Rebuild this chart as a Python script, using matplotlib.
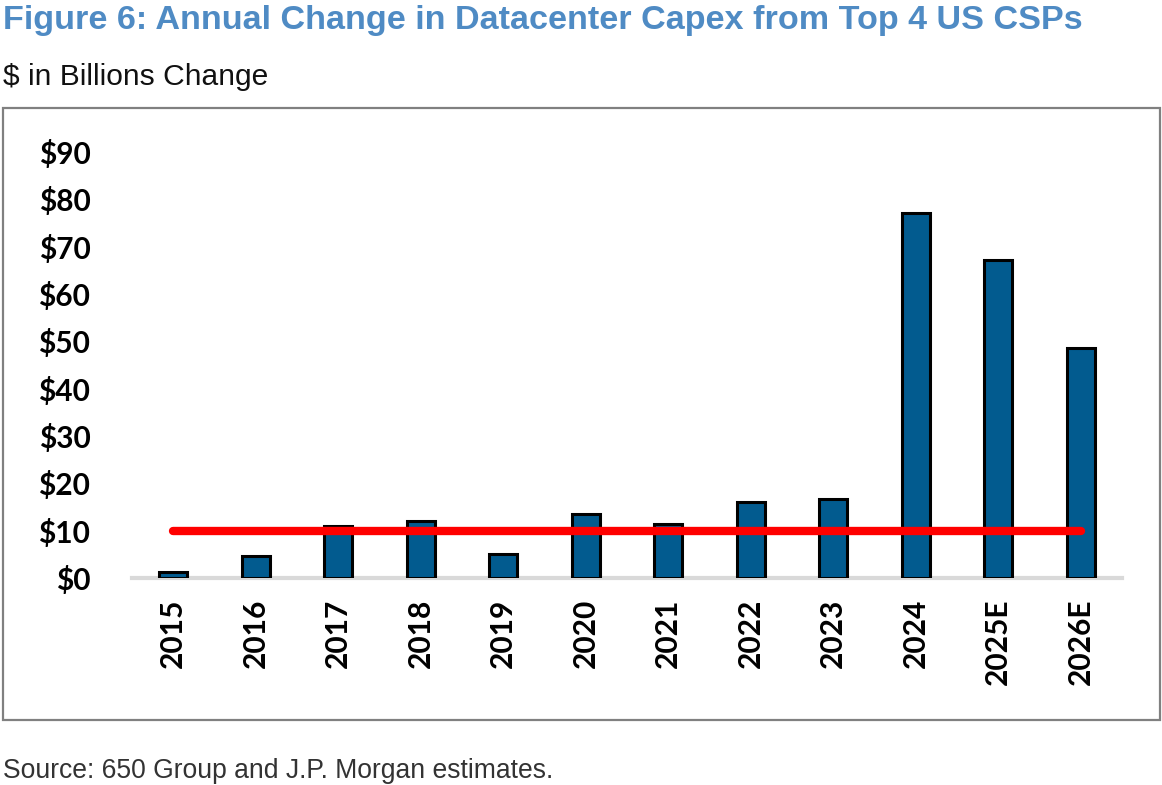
import matplotlib.pyplot as plt
from matplotlib.patches import Rectangle

# data
years = ["2015", "2016", "2017", "2018", "2019", "2020",
         "2021", "2022", "2023", "2024", "2025E", "2026E"]
capex_change = [1.2, 4.6, 11.0, 12.0, 5.1, 13.5, 11.4, 16.1, 16.7, 77.2, 67.2, 48.6]
reference_line = [10] * len(years)
y_ticks = [0, 10, 20, 30, 40, 50, 60, 70, 80, 90]

fig = plt.figure(figsize=(11.62, 7.85), dpi=100)


def fit_width(txt, width_px):
    # shrink/grow a text so it spans about the same width as in the reference
    r = fig.canvas.get_renderer()
    w = txt.get_window_extent(renderer=r).width
    txt.set_fontsize(txt.get_fontsize() * width_px / w)


# title block
title = fig.text(0.003, 0.993, "Figure 6: Annual Change in Datacenter Capex from Top 4 US CSPs",
                 family="Liberation Sans", weight="bold", size=24,
                 color="#4F8BC4", va="top", ha="left")
sub = fig.text(0.003, 0.902, "$ in Billions Change", family="Liberation Sans",
               size=19, color="#111111", va="center", ha="left")
src = fig.text(0.003, 0.018, "Source: 650 Group and J.P. Morgan estimates.",
               family="Liberation Sans", size=16, color="#333333",
               va="center", ha="left")
fit_width(title, 1080)
fit_width(sub, 266)
fit_width(src, 552)

# grey frame around the chart
fig.patches.append(Rectangle((3 / 1162, 1 - 720 / 785), 1157 / 1162, 612 / 785,
                             transform=fig.transFigure, fill=False,
                             edgecolor="#808080", linewidth=1.6))

ax = fig.add_axes([132 / 1162, 1 - 578 / 785, 990 / 1162, 426 / 785])
x = range(len(years))
ax.bar(x, capex_change, width=0.34, color="#025B8F", edgecolor="black",
       linewidth=2.2, zorder=2)
ax.plot(x, reference_line, color="#FF0000", linewidth=6,
        solid_capstyle="round", zorder=3)

ax.set_xlim(-0.5, len(years) - 0.5)
ax.set_ylim(0, 90)
ax.set_yticks(y_ticks)
ax.set_yticklabels([f"${v}" for v in y_ticks])
ax.set_xticks(list(x))
ax.set_xticklabels(years, rotation=90)

for lab in ax.get_xticklabels() + ax.get_yticklabels():
    lab.set_family("Lato")
    lab.set_weight("bold")
    lab.set_fontsize(21.5)

ax.tick_params(axis="both", length=0)
ax.tick_params(axis="y", pad=30)
ax.tick_params(axis="x", pad=15)

for side in ["top", "right", "left"]:
    ax.spines[side].set_visible(False)
ax.spines["bottom"].set_color("#D9D9D9")
ax.spines["bottom"].set_linewidth(3)
ax.spines["bottom"].set_zorder(1)

fig.savefig("out.png", dpi=100)
